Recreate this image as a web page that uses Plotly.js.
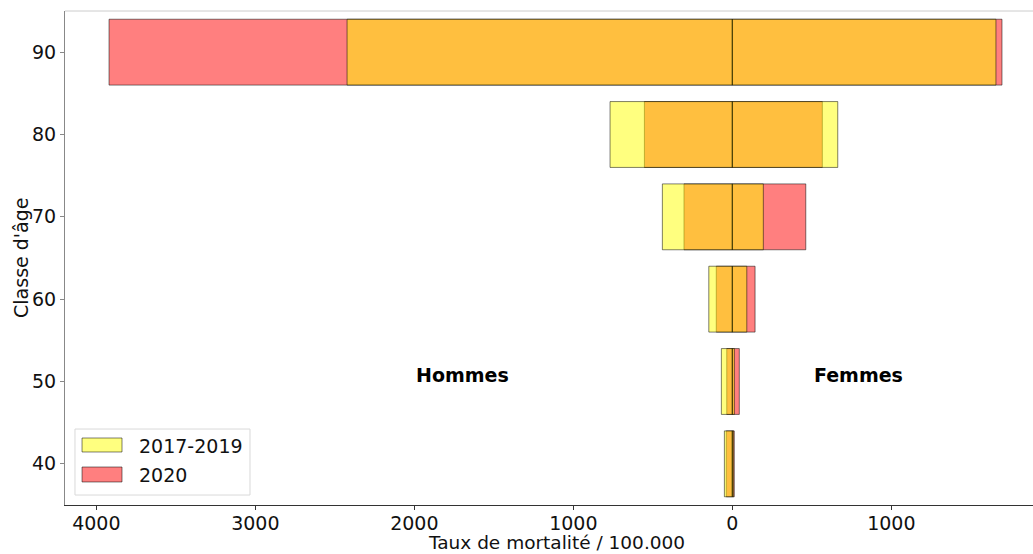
<!DOCTYPE html>
<html>
<head>
<meta charset="utf-8">
<script src="https://cdn.plot.ly/plotly-3.0.1.min.js"></script>
<style>
  html, body { margin: 0; padding: 0; background: #fff; }
  #chart { width: 1033px; height: 554px; }
</style>
</head>
<body>
<div id="chart"></div>
<script>
// Age classes (bar centres)
const ages = [40, 50, 60, 70, 80, 90];

// Mortality rate per 100.000, men
const men_2017_2019 = [50, 69, 148, 440, 769, 2423];
const men_2020      = [38, 35, 101, 304, 553, 3920];

// Mortality rate per 100.000, women
const women_2017_2019 = [8, 13, 91, 195, 663, 1658];
const women_2020      = [12, 44, 143, 462, 566, 1696];

// Series labels
const seriesNames = ['2017-2019', '2020'];

// x tick positions and their (unsigned) labels
const xTickVals = [-4000, -3000, -2000, -1000, 0, 1000];
const xTickText = ['4000', '3000', '2000', '1000', '0', '1000'];
const yTickVals = [40, 50, 60, 70, 80, 90];

const FONT = 'DejaVu Sans, Liberation Sans, sans-serif';
const FS = 19;
const YELLOW = 'rgba(255,255,0,0.5)';
const RED = 'rgba(255,0,0,0.5)';
const EDGE = 'rgba(0,0,0,0.5)';
const seriesColors = [YELLOW, RED];

function neg(arr) { return arr.map(v => -v); }

function barTrace(values, color, name) {
  return {
    type: 'bar',
    orientation: 'h',
    y: ages,
    x: values,
    width: 8,
    name: name,
    showlegend: false,
    marker: { color: color, line: { color: EDGE, width: 1 } },
    hoverinfo: 'skip'
  };
}

// 2020 drawn first, 2017-2019 on top (the overlap shows as orange)
const traces = [
  barTrace(neg(men_2020), RED, seriesNames[1]),
  barTrace(women_2020, RED, seriesNames[1]),
  barTrace(neg(men_2017_2019), YELLOW, seriesNames[0]),
  barTrace(women_2017_2019, YELLOW, seriesNames[0])
];

// Legend box with wide colour patches, drawn in paper coordinates
const legendShapes = [
  { type: 'rect', xref: 'paper', yref: 'paper', x0: 0.0103, x1: 0.1911, y0: 0.0202, y1: 0.1538,
    fillcolor: 'rgba(255,255,255,0.85)', line: { color: '#d9d9d9', width: 1 } }
];
const legendAnnots = [];
const patchRows = [[0.1073, 0.1356, 0.1194], [0.0466, 0.0769, 0.0607]];
seriesNames.forEach((nm, i) => {
  const [y0, y1, yt] = patchRows[i];
  legendShapes.push({ type: 'rect', xref: 'paper', yref: 'paper', x0: 0.0176, x1: 0.0589, y0: y0, y1: y1,
    fillcolor: seriesColors[i], line: { color: EDGE, width: 1 } });
  legendAnnots.push({ xref: 'paper', yref: 'paper', x: 0.0744, y: yt, text: nm, showarrow: false,
    xanchor: 'left', yanchor: 'middle', font: { family: FONT, size: FS, color: '#111' } });
});

const layout = {
  width: 1033,
  height: 554,
  margin: { l: 65, r: 0, t: 11, b: 49, pad: 0 },
  paper_bgcolor: '#fff',
  plot_bgcolor: '#fff',
  barmode: 'overlay',
  font: { family: FONT, size: FS, color: '#111' },
  showlegend: false,
  xaxis: {
    range: [-4197, 1891],
    tickvals: xTickVals,
    ticktext: xTickText,
    ticks: 'outside', ticklen: 4, tickwidth: 1, tickcolor: '#333',
    ticklabelstandoff: -3,
    showline: true, linecolor: '#333', linewidth: 1,
    showgrid: false, zeroline: false,
    automargin: false,
    tickfont: { family: FONT, size: FS, color: '#111' }
  },
  yaxis: {
    range: [35, 95],
    tickvals: yTickVals,
    ticks: 'outside', ticklen: 4, tickwidth: 1, tickcolor: '#888',
    showline: true, linecolor: '#888', linewidth: 1,
    showgrid: false, zeroline: false,
    automargin: false,
    tickfont: { family: FONT, size: FS, color: '#111' }
  },
  shapes: [
    { type: 'line', xref: 'paper', yref: 'paper', x0: 0, x1: 1, y0: 1, y1: 1,
      line: { color: '#cccccc', width: 1 } }
  ].concat(legendShapes),
  annotations: [
    { xref: 'x', yref: 'y', x: -2000, y: 50, text: '<b>Hommes</b>', showarrow: false,
      xanchor: 'left', yanchor: 'middle', yshift: 7,
      font: { family: FONT, size: 19, color: '#000' } },
    { xref: 'x', yref: 'y', x: 500, y: 50, text: '<b>Femmes</b>', showarrow: false,
      xanchor: 'left', yanchor: 'middle', yshift: 7,
      font: { family: FONT, size: 19, color: '#000' } },
    // x-axis title, centred on the full axes box (whose right edge lies past the page)
    { xref: 'paper', yref: 'paper', x: 0.5077, y: -0.0769, text: 'Taux de mortalité / 100.000',
      showarrow: false, xanchor: 'center', yanchor: 'middle', borderpad: 0,
      font: { family: FONT, size: 18.5, color: '#111' } },
    // y-axis title
    { xref: 'paper', yref: 'paper', x: -0.0455, y: 0.5, text: "Classe d'âge",
      showarrow: false, xanchor: 'center', yanchor: 'middle', textangle: -90,
      font: { family: FONT, size: FS, color: '#111' } }
  ].concat(legendAnnots)
};

Plotly.newPlot('chart', traces, layout, { displayModeBar: false, staticPlot: true });
</script>
</body>
</html>
